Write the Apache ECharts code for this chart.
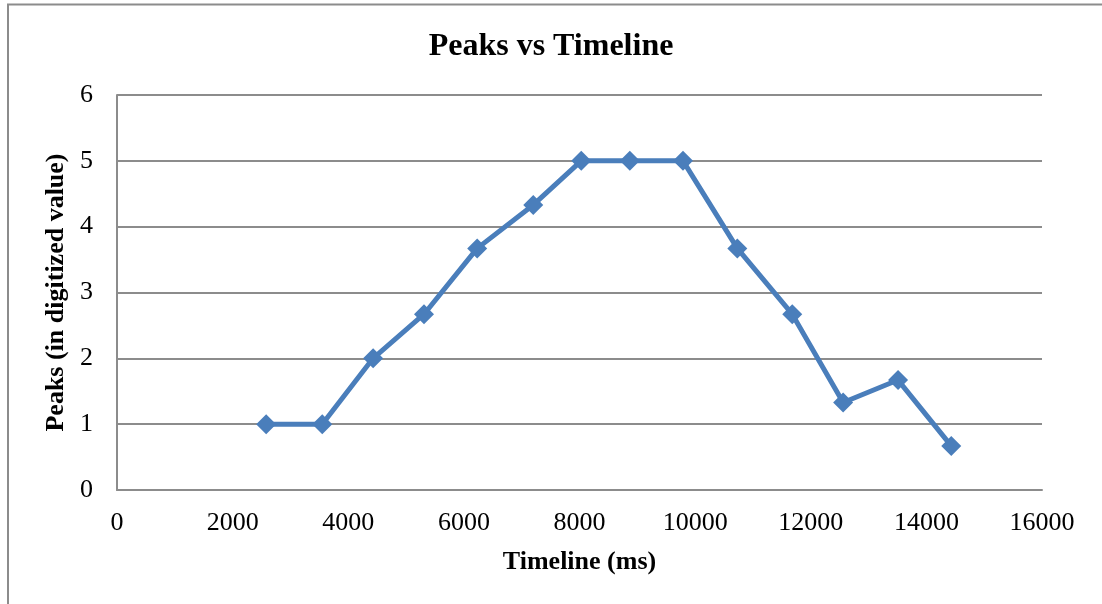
<!DOCTYPE html>
<html>
<head>
<meta charset="utf-8">
<script src="https://cdn.jsdelivr.net/npm/echarts@6/dist/echarts.min.js"></script>
<style>html,body{margin:0;padding:0;background:#fff;}#c{width:1102px;height:604px;}</style>
</head>
<body>
<div id="c"></div>
<script>
const timeline = [2580, 3550, 4430, 5310, 6230, 7200, 8030, 8870, 9790, 10730, 11680, 12560, 13510, 14430];
const peaks = [1, 1, 2, 2.67, 3.67, 4.33, 5, 5, 5, 3.67, 2.67, 1.33, 1.67, 0.67];
const titleText = 'Peaks vs Timeline';
const xName = 'Timeline (ms)';
const yName = 'Peaks (in digitized value)';

const chart = echarts.init(document.getElementById('c'));
const serif = '"Liberation Serif", "Times New Roman", serif';
chart.setOption({
  animation: false,
  backgroundColor: '#fff',
  title: {
    text: titleText, left: 'center', top: 26,
    textStyle: {fontFamily: serif, fontWeight: 'bold', fontSize: 32, color: '#000'}
  },
  grid: {left: 117, top: 95, width: 925, height: 395, containLabel: false},
  xAxis: {
    type: 'value', min: 0, max: 16000, interval: 2000,
    name: xName, nameLocation: 'middle', nameGap: 59,
    nameTextStyle: {fontFamily: serif, fontWeight: 'bold', fontSize: 26, color: '#000'},
    axisLine: {show: true, onZero: false, lineStyle: {color: '#8c8c8c', width: 2}},
    axisTick: {show: false},
    axisLabel: {fontFamily: serif, fontSize: 26, color: '#000', margin: 20,
      formatter: v => String(v)},
    splitLine: {show: false}
  },
  yAxis: {
    type: 'value', min: 0, max: 6, interval: 1,
    name: yName, nameLocation: 'middle', nameGap: 42, nameRotate: 90,
    nameTextStyle: {fontFamily: serif, fontWeight: 'bold', fontSize: 26, color: '#000'},
    axisLine: {show: true, lineStyle: {color: '#8c8c8c', width: 2}},
    axisTick: {show: false},
    axisLabel: {fontFamily: serif, fontSize: 26, color: '#000', margin: 24},
    splitLine: {show: true, lineStyle: {color: '#8c8c8c', width: 2}}
  },
  series: [{
    type: 'line',
    data: timeline.map((t, i) => [t, peaks[i]]),
    symbol: 'diamond', symbolSize: 20,
    lineStyle: {color: '#4a7ebb', width: 5},
    itemStyle: {color: '#4a7ebb'}
  }],
  graphic: [{
    type: 'polyline',
    shape: {points: [[8, 604], [8, 4.5], [1102, 4.5]]},
    style: {stroke: '#8c8c8c', lineWidth: 2, fill: null}
  }]
});
</script>
</body>
</html>
